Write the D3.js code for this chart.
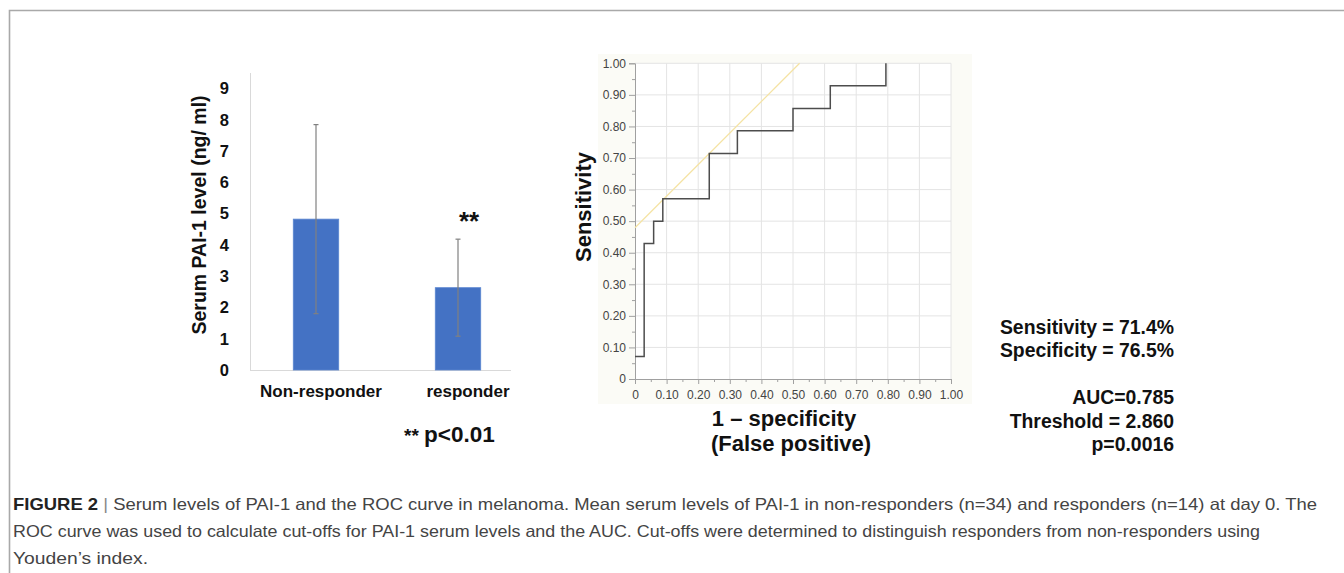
<!DOCTYPE html>
<html>
<head>
<meta charset="utf-8">
<script src="https://cdn.jsdelivr.net/npm/d3@7"></script>
<style>
  body { margin: 0; background: #fff; }
  svg { display: block; font-family: Arial, 'Liberation Sans', sans-serif; }
</style>
</head>
<body>
<div id="chart"></div>
<script>
// bar chart data (mean +/- SD)
var groups = ['Non-responder', 'responder'];
var means = [4.82, 2.63];
var sds = [3.02, 1.55];
var barTicks = [0, 1, 2, 3, 4, 5, 6, 7, 8, 9];

// ROC curve (1 - specificity, sensitivity)
var rocFpr = [0, 0.029, 0.059, 0.088, 0.235, 0.324, 0.5, 0.618, 0.794];
var rocTpr = [0.071, 0.429, 0.5, 0.571, 0.714, 0.786, 0.857, 0.929, 1.0];
var rocTicks = [0, 0.1, 0.2, 0.3, 0.4, 0.5, 0.6, 0.7, 0.8, 0.9, 1.0];
var cutFpr = 0.235;
var cutTpr = 0.714;

var statLines = ['Sensitivity = 71.4%', 'Specificity = 76.5%', '', 'AUC=0.785', 'Threshold = 2.860', 'p=0.0016'];
var captionLines = [
  'Serum levels of PAI-1 and the ROC curve in melanoma. Mean serum levels of PAI-1 in non-responders (n=34) and responders (n=14) at day 0. The',
  'ROC curve was used to calculate cut-offs for PAI-1 serum levels and the AUC. Cut-offs were determined to distinguish responders from non-responders using',
  'Youden\u2019s index.'
];

var width = 1344;
var height = 573;

var svg = d3.select('#chart').append('svg')
  .attr('width', width)
  .attr('height', height);

// figure frame
svg.append('path')
  .attr('d', 'M9.5,573 L9.5,10.5 L1344,10.5')
  .attr('fill', 'none')
  .attr('stroke', '#a9a9a9')
  .attr('stroke-width', 1.6);

drawBars(svg);
drawRoc(svg);
drawStats(svg);
drawCaption(svg);

// ---------- bar chart ----------
function drawBars(dom) {
  var g = dom.append('g');
  var x = d3.scaleBand()
    .domain(groups)
    .range([245, 529])
    .paddingInner(0.68)
    .paddingOuter(0.34);
  var y = d3.scaleLinear().domain([0, 9]).range([370, 88.3]);

  g.append('line')
    .attr('x1', 250.5).attr('x2', 250.5)
    .attr('y1', 73).attr('y2', y(0))
    .attr('stroke', '#d9d9d9');
  g.append('line')
    .attr('x1', 250).attr('x2', 511)
    .attr('y1', y(0) + 0.5).attr('y2', y(0) + 0.5)
    .attr('stroke', '#d9d9d9');

  g.selectAll('text.ytick')
    .data(barTicks)
    .enter().append('text')
    .attr('class', 'ytick')
    .attr('x', 229)
    .attr('y', function (d) { return y(d); })
    .attr('dy', '0.36em')
    .attr('text-anchor', 'end')
    .style('font-size', '16.5px')
    .style('font-weight', 'bold')
    .attr('fill', '#111')
    .text(function (d) { return d; });

  g.selectAll('rect.bar')
    .data(groups)
    .enter().append('rect')
    .attr('class', 'bar')
    .attr('x', function (d) { return x(d); })
    .attr('width', x.bandwidth())
    .attr('y', function (d, i) { return y(means[i]); })
    .attr('height', function (d, i) { return y(0) - y(means[i]); })
    .attr('fill', '#4472c4')
    .attr('stroke', '#5a86d0')
    .attr('stroke-width', 0.8);

  // error bars
  var err = g.selectAll('g.err')
    .data(groups)
    .enter().append('g')
    .attr('class', 'err')
    .attr('stroke', '#808080')
    .attr('stroke-width', 1.2);
  err.append('line')
    .attr('x1', function (d) { return x(d) + x.bandwidth() / 2; })
    .attr('x2', function (d) { return x(d) + x.bandwidth() / 2; })
    .attr('y1', function (d, i) { return y(means[i] + sds[i]); })
    .attr('y2', function (d, i) { return y(means[i] - sds[i]); });
  [1, -1].forEach(function (s) {
    err.append('line')
      .attr('x1', function (d) { return x(d) + x.bandwidth() / 2 - 2.5; })
      .attr('x2', function (d) { return x(d) + x.bandwidth() / 2 + 2.5; })
      .attr('y1', function (d, i) { return y(means[i] + s * sds[i]); })
      .attr('y2', function (d, i) { return y(means[i] + s * sds[i]); });
  });

  // category labels
  var labelX = [321, 468];
  g.selectAll('text.cat')
    .data(groups)
    .enter().append('text')
    .attr('class', 'cat')
    .attr('x', function (d, i) { return labelX[i]; })
    .attr('y', 397)
    .attr('text-anchor', 'middle')
    .style('font-size', '17px')
    .style('font-weight', 'bold')
    .attr('fill', '#111')
    .text(function (d) { return d; });

  g.append('text')
    .attr('transform', 'translate(206,' + 215 + ') rotate(-90)')
    .attr('text-anchor', 'middle')
    .style('font-size', '19.5px')
    .style('font-weight', 'bold')
    .attr('fill', '#111')
    .text('Serum PAI-1 level (ng/ ml)');

  g.append('text')
    .attr('x', 469)
    .attr('y', 230)
    .attr('text-anchor', 'middle')
    .style('font-size', '26px')
    .style('font-weight', 'bold')
    .attr('fill', '#111')
    .text('**');

  g.append('text')
    .attr('x', 404)
    .attr('y', 442)
    .style('font-weight', 'bold')
    .attr('fill', '#111')
    .call(function (t) {
      t.append('tspan').style('font-size', '19px').text('** ');
      t.append('tspan').style('font-size', '22.5px').text('p<0.01');
    });
}

// ---------- ROC curve ----------
function drawRoc(dom) {
  var g = dom.append('g');
  var x = d3.scaleLinear().domain([0, 1]).range([635, 951]);
  var y = d3.scaleLinear().domain([0, 1]).range([379, 63.3]);
  var fmt = function (d) { return d === 0 ? '0' : d3.format('.2f')(d); };
  var minor = d3.range(0.05, 1, 0.1);

  g.append('rect')
    .attr('x', 598).attr('y', 54)
    .attr('width', 374).attr('height', 350)
    .attr('fill', '#fbfbf6');
  g.append('rect')
    .attr('x', x(0)).attr('y', y(1))
    .attr('width', x(1) - x(0)).attr('height', y(0) - y(1))
    .attr('fill', '#fff');

  // grid
  g.selectAll('line.vg')
    .data(rocTicks.slice(1))
    .enter().append('line')
    .attr('x1', function (d) { return x(d); })
    .attr('x2', function (d) { return x(d); })
    .attr('y1', y(0)).attr('y2', y(1))
    .attr('stroke', '#e4e4e4');
  g.selectAll('line.hg')
    .data(rocTicks.slice(1))
    .enter().append('line')
    .attr('y1', function (d) { return y(d); })
    .attr('y2', function (d) { return y(d); })
    .attr('x1', x(0)).attr('x2', x(1))
    .attr('stroke', '#e4e4e4');

  // axes
  var yAxis = d3.axisLeft(y).tickValues(rocTicks).tickFormat(fmt).tickSize(6).tickPadding(3);
  var xAxis = d3.axisBottom(x).tickValues(rocTicks).tickFormat(fmt).tickSize(5).tickPadding(6);
  var ya = g.append('g').attr('transform', 'translate(' + x(0) + ',0)').call(yAxis);
  var xa = g.append('g').attr('transform', 'translate(0,' + y(0) + ')').call(xAxis);
  [ya, xa].forEach(function (a) {
    a.select('.domain').attr('stroke', '#a0a0a0');
    a.selectAll('.tick line').attr('stroke', '#a0a0a0');
    a.selectAll('.tick text')
      .style('font-size', '12px')
      .style('font-family', "'Liberation Sans', Arial, sans-serif")
      .attr('fill', '#444');
  });
  g.append('g').attr('transform', 'translate(' + x(0) + ',0)')
    .call(d3.axisLeft(y).tickValues(minor).tickFormat('').tickSize(3))
    .call(function (a) {
      a.select('.domain').remove();
      a.selectAll('.tick line').attr('stroke', '#a0a0a0');
    });
  g.append('g').attr('transform', 'translate(0,' + y(0) + ')')
    .call(d3.axisBottom(x).tickValues(minor).tickFormat('').tickSize(3))
    .call(function (a) {
      a.select('.domain').remove();
      a.selectAll('.tick line').attr('stroke', '#a0a0a0');
    });

  // Youden tangent line through the cut-off
  var intercept = cutTpr - cutFpr;
  g.append('line')
    .attr('x1', x(0)).attr('y1', y(intercept))
    .attr('x2', x(1 - intercept)).attr('y2', y(1))
    .attr('stroke', '#f5e3a3')
    .attr('stroke-width', 1.3);

  var line = d3.line()
    .x(function (d, i) { return x(rocFpr[i]); })
    .y(function (d, i) { return y(rocTpr[i]); })
    .curve(d3.curveStepAfter);
  g.append('path')
    .attr('d', line(rocFpr))
    .attr('fill', 'none')
    .attr('stroke', '#4d4d4d')
    .attr('stroke-width', 1.5);

  g.append('text')
    .attr('transform', 'translate(591,207) rotate(-90)')
    .attr('text-anchor', 'middle')
    .style('font-size', '22px')
    .style('font-weight', 'bold')
    .attr('fill', '#111')
    .text('Sensitivity');

  g.append('text')
    .attr('x', 784).attr('y', 426)
    .attr('text-anchor', 'middle')
    .style('font-size', '22px')
    .style('font-weight', 'bold')
    .attr('fill', '#111')
    .text('1 \u2013 specificity');
  g.append('text')
    .attr('x', 791).attr('y', 451)
    .attr('text-anchor', 'middle')
    .style('font-size', '22px')
    .style('font-weight', 'bold')
    .attr('fill', '#111')
    .text('(False positive)');
}

// ---------- statistics text ----------
function drawStats(dom) {
  dom.append('g').selectAll('text')
    .data(statLines)
    .enter().append('text')
    .attr('x', 1174)
    .attr('y', function (d, i) { return 334 + i * 23.4; })
    .attr('text-anchor', 'end')
    .style('font-size', '19.4px')
    .style('font-weight', 'bold')
    .attr('fill', '#111')
    .text(function (d) { return d; });
}

// ---------- caption ----------
function drawCaption(dom) {
  var lens = [1304, 1247, 135];
  var g = dom.append('g')
    .style('font-family', "'Liberation Sans Narrow', 'Liberation Sans', Arial, sans-serif")
    .style('font-size', '16.5px')
    .attr('fill', '#444');
  g.append('text')
    .attr('x', 13).attr('y', 510)
    .attr('textLength', lens[0])
    .attr('lengthAdjust', 'spacingAndGlyphs')
    .call(function (t) {
      t.append('tspan').style('font-weight', 'bold').attr('fill', '#222').text('FIGURE 2');
      t.append('tspan').attr('fill', '#888').text(' | ');
      t.append('tspan').text(captionLines[0]);
    });
  g.selectAll('text.cap')
    .data(captionLines.slice(1))
    .enter().append('text')
    .attr('class', 'cap')
    .attr('x', 13)
    .attr('y', function (d, i) { return 537 + i * 27; })
    .attr('textLength', function (d, i) { return lens[i + 1]; })
    .attr('lengthAdjust', 'spacingAndGlyphs')
    .text(function (d) { return d; });
}
</script>
</body>
</html>
